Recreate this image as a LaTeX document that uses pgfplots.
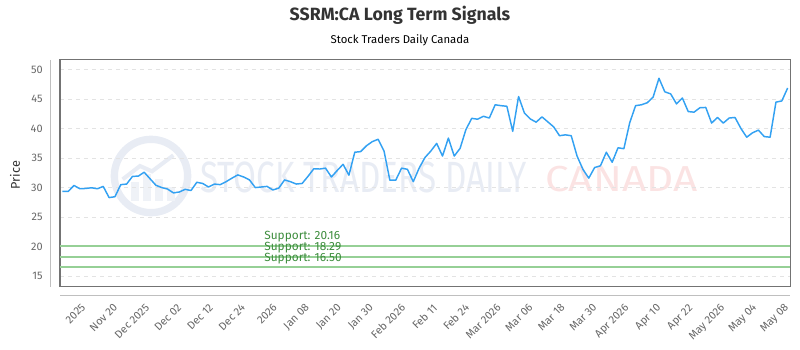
\documentclass[border=0pt]{standalone}
\usepackage{pgfplots}
\pgfplotsset{compat=1.18}
\usepackage{pgfplotstable}
\usepackage{fontspec}
\setmainfont{Fira Sans}
\usepackage{graphicx}

\definecolor{linecol}{HTML}{33A1F2}
\definecolor{supline}{HTML}{96D096}
\definecolor{suptext}{HTML}{3C8C3C}
\definecolor{ticktext}{HTML}{666666}
\definecolor{titletext}{HTML}{333333}
\definecolor{gridcol}{HTML}{E3E3E3}
\definecolor{wmblue}{HTML}{E8ECF4}
\definecolor{wmred}{HTML}{FBE3E3}

\pgfplotstableread{
i v
0 29.34
1 29.34
2 30.36
3 29.80
4 29.85
5 29.97
6 29.80
7 30.20
8 28.30
9 28.45
10 30.50
11 30.60
12 31.90
13 31.95
14 32.60
15 31.50
16 30.40
17 30.00
18 29.75
19 29.10
20 29.25
21 29.70
22 29.50
23 30.90
24 30.70
25 30.10
26 30.60
27 30.50
28 31.00
29 31.60
30 32.15
31 31.80
32 31.30
33 30.00
34 30.10
35 30.20
36 29.60
37 29.90
38 31.30
39 31.00
40 30.60
41 30.70
42 31.90
43 33.20
44 33.15
45 33.30
46 31.80
47 32.90
48 33.95
49 32.10
50 36.00
51 36.10
52 37.10
53 37.80
54 38.20
55 36.20
56 31.25
57 31.25
58 33.30
59 33.10
60 31.00
61 33.30
62 35.10
63 36.20
64 37.50
65 35.35
66 38.40
67 35.35
68 36.65
69 39.85
70 41.75
71 41.60
72 42.10
73 41.80
74 44.05
75 43.90
76 43.80
77 39.55
78 45.45
79 42.65
80 41.65
81 41.10
82 42.00
83 41.15
84 40.30
85 38.80
86 38.95
87 38.80
88 35.35
89 33.10
90 31.60
91 33.40
92 33.70
93 36.00
94 34.30
95 36.75
96 36.60
97 41.00
98 43.90
99 44.05
100 44.40
101 45.35
102 48.55
103 46.25
104 45.90
105 44.20
106 45.20
107 42.90
108 42.80
109 43.55
110 43.60
111 40.95
112 41.90
113 40.95
114 41.80
115 41.90
116 40.05
117 38.55
118 39.30
119 39.75
120 38.65
121 38.55
122 44.50
123 44.70
124 46.90
}\pricedata

\begin{document}
\begin{tikzpicture}
\path[use as bounding box] (0pt,0pt) rectangle (600pt,262.5pt);

% watermark logo
\draw[wmblue, line width=5.5pt, fill=white] (113.25pt,130.5pt) circle (27.5pt);
\fill[wmblue!70] (98pt,112pt) rectangle (104pt,126pt);
\fill[wmblue!70] (107pt,112pt) rectangle (113pt,132pt);
\fill[wmblue!70] (116pt,112pt) rectangle (122pt,128pt);
\fill[wmblue!70] (125pt,112pt) rectangle (131pt,122pt);
\draw[wmblue, line width=3pt] (92pt,128pt) -- (105pt,138pt) -- (114pt,134pt) -- (130pt,146pt);
% watermark text
\node[anchor=south west, inner sep=0pt, text=wmblue] at (150pt,117.75pt)
  {\resizebox{245pt}{23pt}{STOCK TRADERS DAILY}};
\node[anchor=south west, inner sep=0pt, text=wmred] at (408.75pt,118.5pt)
  {\resizebox{114pt}{19pt}{CANADA}};

% decorative outer axis lines
\draw[black!25, line width=0.75pt] (37.5pt,217.5pt) -- (37.5pt,47.25pt);
\draw[black!25, line width=0.75pt] (45pt,40.5pt) -- (592.5pt,40.5pt);

\begin{axis}[
  at={(45pt,48pt)}, anchor=south west,
  scale only axis, width=547.5pt, height=169.5pt,
  xmin=-0.39, xmax=124.4, ymin=13.3, ymax=51.65,
  axis line style={draw=black!55, line width=0.75pt},
  major tick length=0pt,
  ytick={15,20,...,50},
  ymajorgrids, grid style={gridcol, dashed, line width=0.6pt},
  xtick={3.37,8.83,14.29,19.76,25.22,30.68,36.14,41.60,47.07,52.53,57.99,63.45,68.91,74.38,79.84,85.30,90.76,96.22,101.69,107.15,112.61,118.07,123.53},
  xticklabels={2025, Nov 20, Dec 2025, Dec 02, Dec 12, Dec 24, 2026, Jan 08, Jan 20, Jan 30, Feb 2026, Feb 11, Feb 24, Mar 2026, Mar 06, Mar 18, Mar 30, Apr 2026, Apr 10, Apr 22, May 2026, May 04, May 08},
  tick label style={font=\fontsize{8.2}{9}\selectfont, text=ticktext},
  /pgf/number format/assume math mode=true,
  yticklabel style={anchor=east, xshift=-9.5pt},
  xticklabel style={yshift=-12.5pt, xshift=-1pt, rotate=45, anchor=north east, inner sep=0pt},
  clip=false,
]
\addplot[supline, line width=1.5pt, no marks] coordinates {(-0.39,20.16) (124.4,20.16)};
\addplot[supline, line width=1.5pt, no marks] coordinates {(-0.39,18.29) (124.4,18.29)};
\addplot[supline, line width=1.5pt, no marks] coordinates {(-0.39,16.50) (124.4,16.50)};
\addplot[linecol, line width=1.1pt, no marks, line join=round] table[x=i,y=v]{\pricedata};
\node[anchor=south west, inner sep=0pt, text=suptext, font=\fontsize{8.9}{9}\selectfont] at (axis cs:34.5,20.16) [yshift=2.5pt] {Support: 20.16};
\node[anchor=south west, inner sep=0pt, text=suptext, font=\fontsize{8.9}{9}\selectfont] at (axis cs:34.5,18.29) [yshift=2.5pt] {Support: 18.29};
\node[anchor=south west, inner sep=0pt, text=suptext, font=\fontsize{8.9}{9}\selectfont] at (axis cs:34.5,16.50) [yshift=2.5pt] {Support: 16.50};
\end{axis}

\node[text=titletext, font=\bfseries\fontsize{13.3}{15}\selectfont] at (300pt,251.25pt) {SSRM:CA Long Term Signals};
\node[text=black, font=\fontsize{8.5}{10}\selectfont] at (300pt,232.5pt) {Stock Traders Daily Canada};
\node[text=titletext, rotate=90, font=\fontsize{9.5}{10}\selectfont] at (11.25pt,131.25pt) {Price};
\end{tikzpicture}
\end{document}
